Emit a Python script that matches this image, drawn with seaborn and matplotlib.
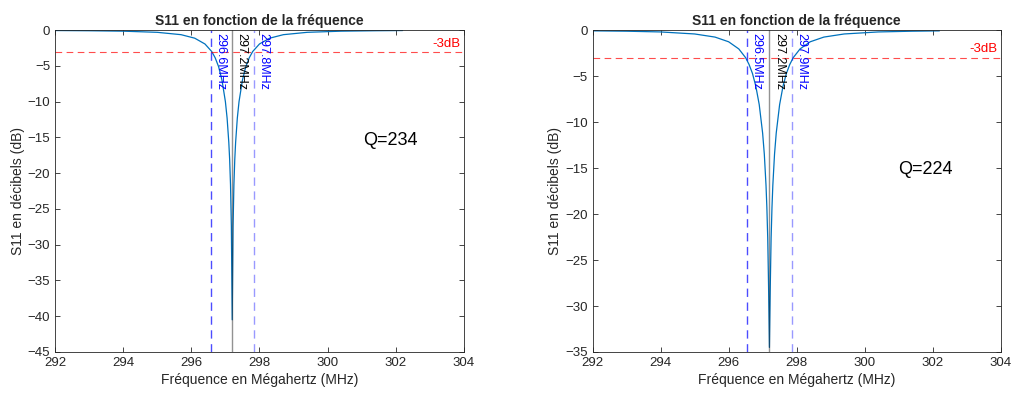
import matplotlib
matplotlib.use('Agg')
import matplotlib.pyplot as plt
import seaborn as sns
import pandas as pd

# S11 readings (MHz, dB) - first measurement
freq_a = [292.0, 293.0, 294.0, 295.0, 295.7, 296.1, 296.4, 296.6, 296.7, 296.8, 296.9, 297.0,
          297.05, 297.1, 297.125, 297.15, 297.175, 297.2, 297.225, 297.25, 297.275, 297.3,
          297.35, 297.4, 297.5, 297.6, 297.7, 297.8, 298.0, 298.3, 298.7, 299.4, 300.4, 301.4, 302.2]
s11_a = [-0.06, -0.09, -0.15, -0.31, -0.64, -1.13, -1.94, -3.0, -3.87, -5.1, -7.0, -10.0,
         -12.3, -15.7, -18.1, -21.6, -27.4, -40.5, -27.4, -21.6, -18.1, -15.7,
         -12.3, -10.0, -7.0, -5.1, -3.87, -3.0, -1.94, -1.13, -0.64, -0.31, -0.15, -0.09, -0.06]

# second measurement
freq_b = [292.0, 293.0, 294.0, 295.0, 295.6, 296.0, 296.3, 296.5, 296.6, 296.7, 296.8, 296.9,
          297.0, 297.05, 297.1, 297.125, 297.15, 297.175, 297.2, 297.225, 297.25, 297.275,
          297.3, 297.35, 297.4, 297.5, 297.6, 297.7, 297.8, 297.9, 298.1, 298.4, 298.8,
          299.4, 300.4, 301.4, 302.2]
s11_b = [-0.08, -0.12, -0.2, -0.42, -0.76, -1.27, -2.05, -3.0, -3.73, -4.7, -6.1, -8.1,
         -11.2, -13.5, -16.9, -19.3, -22.6, -27.9, -34.5, -27.9, -22.6, -19.3,
         -16.9, -13.5, -11.2, -8.1, -6.1, -4.7, -3.73, -3.0, -2.05, -1.27, -0.76,
         -0.42, -0.2, -0.12, -0.085]

# -3dB points and resonance
marks_a = [296.57, 297.2, 297.83]
labels_a = ['296.6MHz', '297.2MHz', '297.8MHz']
marks_b = [296.55, 297.2, 297.86]
labels_b = ['296.5MHz', '297.2MHz', '297.9MHz']
q_text = ['Q=234', 'Q=224']
ylims = [-45, -35]

sns.set_style('ticks')
plt.rcParams['font.family'] = ['Liberation Sans', 'DejaVu Sans']
plt.rcParams['xtick.direction'] = 'in'
plt.rcParams['ytick.direction'] = 'in'

fig = plt.figure(figsize=(10.11, 3.94), dpi=100)
ax1 = fig.add_axes([0.0544, 0.1066, 0.4045, 0.817])
ax2 = fig.add_axes([0.5862, 0.1066, 0.4035, 0.817])

dark = '#262626'
sets = [(ax1, freq_a, s11_a, marks_a, labels_a, q_text[0], ylims[0], (301.83, -15.4)),
        (ax2, freq_b, s11_b, marks_b, labels_b, q_text[1], ylims[1], (301.8, -15.2))]

for ax, f, s, marks, labs, q, ylo, qpos in sets:
    df = pd.DataFrame({'f': f, 's11': s})
    sns.lineplot(data=df, x='f', y='s11', ax=ax, color='#0072BD', linewidth=0.9)
    ax.axhline(-3, color='red', alpha=0.7, linestyle=(0, (6, 4)), linewidth=0.8)
    ax.text(303.9, -2.75, '-3dB', color='red', fontsize=9.5, ha='right', va='bottom')
    cols = ['blue', '#262626', 'blue']
    alphas = [0.7, 0.5, 0.4]
    styles = [(0, (6, 4)), '-', (0, (6, 4))]
    tcols = ['blue', 'black', 'blue']
    for m, lab, c, a, st, tc in zip(marks, labs, cols, alphas, styles, tcols):
        ax.axvline(m, color=c, alpha=a, linestyle=st, linewidth=1.0)
        ax.annotate(lab, xy=(m, 0), xytext=(2.5, -2), textcoords='offset points',
                    rotation=-90, ha='left', va='top', color=tc, fontsize=9)
    ax.text(qpos[0], qpos[1], q, fontsize=13, ha='center', va='center', color='black')
    ax.set_xlim(292, 304)
    ax.set_ylim(ylo, 0)
    ax.set_xticks(range(292, 305, 2))
    ax.set_yticks(range(ylo, 1, 5))
    ax.tick_params(top=True, right=True, length=3.5, width=0.6, colors=dark, labelsize=9.5,
                   labelcolor=dark)
    for sp in ax.spines.values():
        sp.set_visible(True)
        sp.set_color(dark)
        sp.set_linewidth(0.6)
    ax.set_xlabel('Fréquence en Mégahertz (MHz)', fontsize=10, color=dark, labelpad=3)
    ax.set_ylabel('S11 en décibels (dB)', fontsize=10, color=dark, labelpad=2)
    ax.set_title('S11 en fonction de la fréquence', fontsize=10, fontweight='bold', pad=4)

fig.savefig('out.png', dpi=100)
